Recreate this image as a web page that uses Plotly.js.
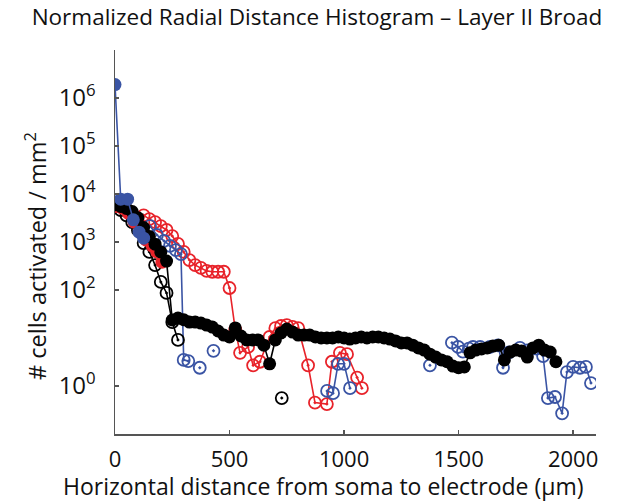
<!DOCTYPE html>
<html>
<head>
<meta charset="utf-8">
<script src="https://cdn.plot.ly/plotly-3.0.1.min.js"></script>
<style>html,body{margin:0;padding:0;background:#fff;}#chart{width:634px;height:503px;}</style>
</head>
<body>
<div id="chart"></div>
<script>
// ---- data (distance in µm, density in cells / mm^2); null = empty bin (not drawn on log axis)
const blueFilledX = [0, 25, 55, 80, 105, 125];
const blueFilledY = [1.9e6, 7800, 7800, 2900, 1600, 1200];

const blueOpenX = [153, 183, 214, 240, 266, 288, 300, 320, 345, 370, 400, 430, 600,
  926, 952, 974, 1000, 1026, 1200, 1375, 1420,
  1471, 1498, 1519, 1545, 1563, 1594, 1637, 1672, 1694, 1720, 1768, 1800, 1840, 1869,
  1890, 1921, 1952, 1973, 2000, 2030, 2056, 2078];
const blueOpenY = [2150, 1400, 1050, 830, 680, 560, 3.5, 3.3, null, 2.4, null, 5.4, null,
  0.79, 0.71, 2.9, 2.9, 0.9, null, 2.7, null,
  8, 6.5, 5.2, 6, 6.5, 6.5, 6.5, 7, 2.4, 5, 6.2, 5.5, 6, 4.2,
  0.56, 0.59, 0.27, 1.95, 2.5, 2.4, 2.5, 1.15];

const redFilledX = [5, 31, 57, 83, 109, 135, 162, 183, 205];
const redFilledY = [5500, 5100, 4000, 2600, 1600, 1100, 830, 620, 380];

const redOpenX = [125, 150, 175, 200, 225, 250, 275, 300, 325, 350, 375, 400, 425, 450, 475, 500,
  525, 546, 581, 603, 633, 675, 700, 725, 750, 775, 800, 843, 873, 925, 947, 982, 1013, 1057, 1078];
const redOpenY = [3600, 3000, 2600, 2150, 1780, 1330, 910, 620, 420, 330, 290, 250, 240, 240, 240, 110,
  15, 4.9, 6.5, 2.7, 3.2, 10.5, 16, 17.8, 18.6, 17, 16, 2.7, 0.45, 0.42, 3.2, 4.9, 4.6, 1.5, 0.9];

const blackOpenX = [25, 50, 75, 100, 125, 150, 175, 200, 225, 250, 275, 500, 728];
const blackOpenY = [4600, 3600, 2600, 1780, 950, 620, 330, 147, 87, 21.5, 9.1, null, 0.56];

const blackFilledX = [0, 25, 50, 75, 100, 125, 150, 175, 200, 225,
  250, 275, 300, 325, 350, 375, 400, 425, 450, 475, 500, 525, 550, 575, 600, 625, 650, 675, 700,
  725, 750, 775, 800, 825, 850, 875, 900, 925, 950, 975, 1000, 1025, 1050, 1075, 1100, 1125, 1150,
  1175, 1200, 1225, 1250, 1275, 1300, 1325, 1350, 1375, 1400, 1425, 1450, 1475, 1500, 1525, 1550,
  1575, 1600, 1625, 1650, 1675, 1700, 1725, 1750, 1775, 1800, 1825, 1850, 1875, 1900, 1925];
const blackFilledY = [6000, 5500, 5000, 4300, 3200, 2000, 1300, 900, 620, 400,
  23.7, 26, 24, 21.5, 21.5, 20.5, 18.6, 16.9, 14, 11.5, 10.5, 16.2, 11, 9.1, 9.1, 9.1, 7.1, 2.9, 9.1,
  12.7, 15.4, 13.3, 11.5, 11.5, 11.5, 10.5, 10, 10, 10, 10.5, 10, 9.5, 10, 10.5, 10, 10.5, 10.5,
  10, 9.5, 8.7, 7.9, 7.9, 7.1, 6.2, 5.6, 4.6, 4.0, 3.5, 3.2, 2.6, 2.4, 2.5, 4.9,
  5.6, 5.9, 6.2, 6.8, 7.1, 3.5, 5.1, 5.6, 5.35, 4.0, 6.2, 7.1, 5.6, 5.1, 3.2];

const yTickVals = [1, 100, 1000, 1e4, 1e5, 1e6];
const yTickText = ['10<sup>0</sup>', '10<sup>2</sup>', '10<sup>3</sup>', '10<sup>4</sup>', '10<sup>5</sup>', '10<sup>6</sup>'];
const xTickVals = [0, 500, 1000, 1500, 2000];

const titleText = 'Normalized Radial Distance Histogram \u2013 Layer II Broad';
const xTitleText = 'Horizontal distance from soma to electrode (\u03bcm)';
const yTitleText = '# cells activated / mm<sup>2</sup>';

// ---- styles
const RED = 'rgb(232,35,42)';
const BLUE = 'rgb(58,84,164)';
const BLACK = 'rgb(0,0,0)';
const FONT = '"Open Sans", "Noto Sans", sans-serif';

function filled(x, y, c) {
  return {x: x, y: y, type: 'scatter', mode: 'lines+markers', connectgaps: false,
    line: {color: c, width: 1.6},
    marker: {symbol: 'circle', size: 13, color: c}, hoverinfo: 'skip'};
}
function open(x, y, c) {
  return {x: x, y: y, type: 'scatter', mode: 'lines+markers', connectgaps: false,
    line: {color: c, width: 1.6},
    marker: {symbol: 'circle-open-dot', size: 12, color: c, line: {color: c, width: 1.8}}, hoverinfo: 'skip'};
}

const data = [
  open(redOpenX, redOpenY, RED),
  open(blueOpenX, blueOpenY, BLUE),
  open(blackOpenX, blackOpenY, BLACK),
  filled(redFilledX, redFilledY, RED),
  filled(blackFilledX, blackFilledY, BLACK),
  filled(blueFilledX, blueFilledY, BLUE)
];

const layout = {
  width: 634, height: 503,
  margin: {l: 115, r: 38, t: 50, b: 69},
  paper_bgcolor: '#fff', plot_bgcolor: '#fff',
  showlegend: false,
  font: {family: FONT, size: 20, color: '#111'},
  title: {text: titleText,
    font: {family: FONT, size: 22.5, color: '#111'}, x: 0.5, xanchor: 'center', xref: 'container', y: 0.965, yanchor: 'middle'},
  xaxis: {
    range: [0, 2100], showgrid: false, zeroline: false,
    showline: true, linecolor: '#555', linewidth: 1.5,
    ticks: 'inside', ticklen: 4, tickwidth: 1.2, tickcolor: '#555',
    tickvals: xTickVals, ticktext: xTickVals.map(String),
    tickfont: {family: FONT, size: 22, color: '#111'},
    ticklabelstandoff: 5
  },
  yaxis: {
    type: 'log', range: [-1, 7], showgrid: false, zeroline: false,
    showline: true, linecolor: '#555', linewidth: 1.5,
    ticks: 'inside', ticklen: 4, tickwidth: 1.2, tickcolor: '#555',
    tickvals: yTickVals, ticktext: yTickText,
    tickfont: {family: FONT, size: 24, color: '#111'},
    ticklabelstandoff: 13
  },
  annotations: [
    {text: xTitleText, xref: 'paper', yref: 'paper', x: 0.4345, y: -0.1354,
      xanchor: 'center', yanchor: 'middle', showarrow: false, borderpad: 0,
      font: {family: FONT, size: 23, color: '#111'}},
    {text: yTitleText, xref: 'paper', yref: 'paper', x: -0.1663, y: 0.4635, textangle: -90,
      xanchor: 'center', yanchor: 'middle', showarrow: false, borderpad: 0,
      font: {family: FONT, size: 23.5, color: '#111'}}
  ]
};

Plotly.newPlot('chart', data, layout, {displayModeBar: false, staticPlot: true});
</script>
</body>
</html>
